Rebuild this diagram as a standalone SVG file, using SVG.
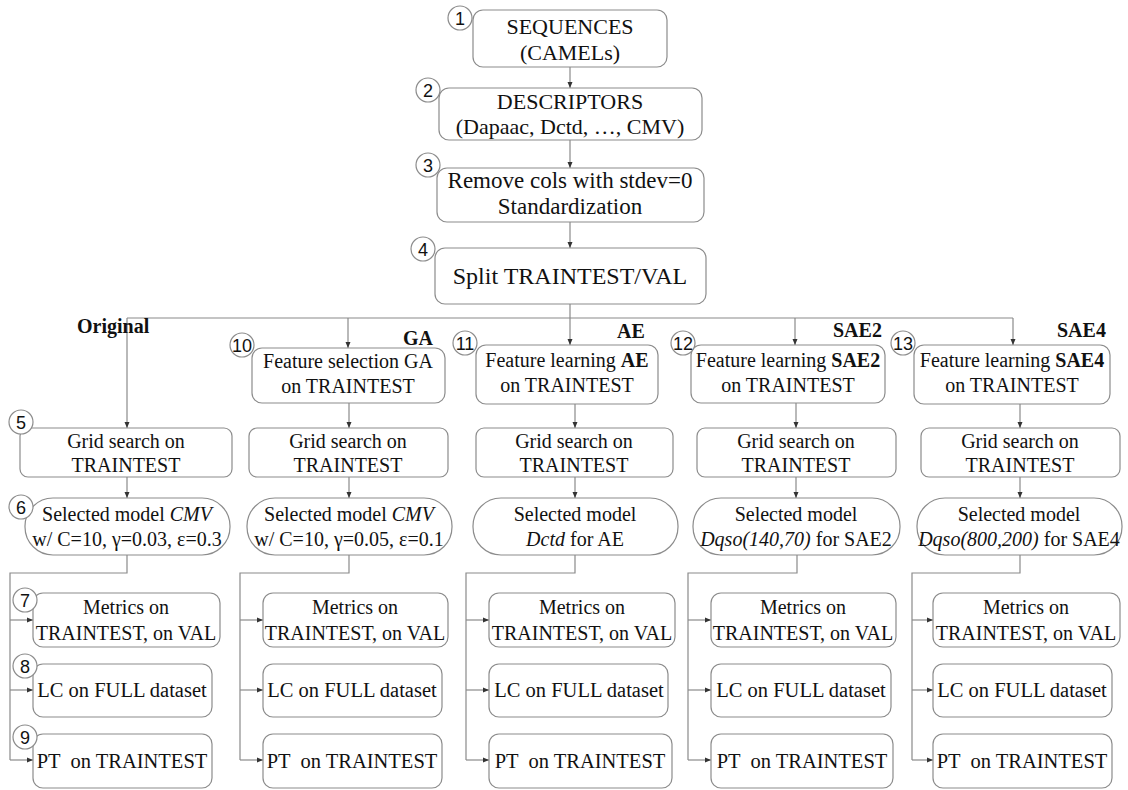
<svg xmlns="http://www.w3.org/2000/svg" width="1128" height="790" viewBox="0 0 1128 790">
<defs>
<marker id="ah" markerUnits="userSpaceOnUse" markerWidth="7" markerHeight="6" refX="6" refY="3" orient="auto">
<path d="M0,0.5 L6,3 L0,5.5 z" fill="#333"/>
</marker>
<style>
.box{fill:#fff;stroke:#8c8c8c;stroke-width:1.2}
.t{font-family:"Liberation Serif","Times New Roman",serif;fill:#111;text-anchor:middle}
.s20{font-size:20px}
.s21{font-size:20.5px}
.s22{font-size:22px}
.num{fill:#fff;stroke:#8c8c8c;stroke-width:1.2}
.nt{font-family:"Liberation Sans",Arial,sans-serif;font-size:18px;fill:#111;text-anchor:middle}
.lab{font-family:"Liberation Serif","Times New Roman",serif;font-size:20px;font-weight:bold;fill:#111}
.c{fill:none;stroke:#8a8a8a;stroke-width:1.2}
.a{marker-end:url(#ah)}
</style>
</defs>
<rect width="1128" height="790" fill="#fff"/>

<g id="connectors">
<path class="c a" d="M570,67 V88"/>
<path class="c a" d="M570,140 V168"/>
<path class="c a" d="M570,222 V248"/>
<path class="c" d="M570,304 V318"/>
<path class="c" d="M127,318 H1013"/>
<path class="c a" d="M127,318 V428"/>
<path class="c a" d="M348,318 V348"/>
<path class="c a" d="M570,318 V345"/>
<path class="c a" d="M795,318 V345"/>
<path class="c a" d="M1013,318 V345"/>
<path class="c a" d="M349,403 V428"/>
<path class="c a" d="M575,404 V428"/>
<path class="c a" d="M796,403 V428"/>
<path class="c a" d="M1020,404 V428"/>
<path class="c a" d="M127,477 V498"/>
<path class="c a" d="M349,477 V498"/>
<path class="c a" d="M575,477 V498"/>
<path class="c a" d="M796,477 V498"/>
<path class="c a" d="M1020,477 V498"/>
<path class="c" d="M127,555 V573 H10 V760"/>
<path class="c a" d="M10,620 H33"/><path class="c a" d="M10,690 H33"/><path class="c a" d="M10,760 H33"/>
<path class="c" d="M349,555 V573 H240 V760"/>
<path class="c a" d="M240,620 H263"/><path class="c a" d="M240,690 H263"/><path class="c a" d="M240,760 H263"/>
<path class="c" d="M575,555 V573 H466 V760"/>
<path class="c a" d="M466,620 H489"/><path class="c a" d="M466,690 H489"/><path class="c a" d="M466,760 H489"/>
<path class="c" d="M797,555 V573 H688 V760"/>
<path class="c a" d="M688,620 H711"/><path class="c a" d="M688,690 H711"/><path class="c a" d="M688,760 H711"/>
<path class="c" d="M1020,555 V573 H912 V760"/>
<path class="c a" d="M912,620 H933"/><path class="c a" d="M912,690 H933"/><path class="c a" d="M912,760 H933"/>
</g>

<g id="n1">
<rect class="box" x="473" y="10" width="194" height="57" rx="10"/>
<text class="t s22" x="570" y="34">SEQUENCES</text>
<text class="t s22" x="570" y="60">(CAMELs)</text>
<circle class="num" cx="460" cy="18" r="12"/><text class="nt" x="460" y="24.5">1</text>
</g>
<g id="n2">
<rect class="box" x="439" y="88" width="263" height="52" rx="10"/>
<text class="t s22" x="570" y="109">DESCRIPTORS</text>
<text class="t s22" x="570" y="134">(Dapaac, Dctd, …, CMV)</text>
<circle class="num" cx="428" cy="90" r="12"/><text class="nt" x="428" y="96.5">2</text>
</g>
<g id="n3">
<rect class="box" x="437" y="168" width="267" height="54" rx="10"/>
<text class="t" style="font-size:23px" x="570" y="188">Remove cols with stdev=0</text>
<text class="t" style="font-size:23px" x="570" y="214">Standardization</text>
<circle class="num" cx="428" cy="165" r="12"/><text class="nt" x="428" y="171.5">3</text>
</g>
<g id="n4">
<rect class="box" x="435" y="248" width="271" height="56" rx="10"/>
<text class="t" style="font-size:24px" x="570" y="284">Split TRAINTEST/VAL</text>
<circle class="num" cx="423" cy="249" r="12"/><text class="nt" x="423" y="255.5">4</text>
</g>

<g id="labels">
<text class="lab" x="77" y="333">Original</text>
<text class="lab" x="403" y="345">GA</text>
<text class="lab" x="617" y="338">AE</text>
<text class="lab" x="833" y="337">SAE2</text>
<text class="lab" x="1057" y="337">SAE4</text>
</g>

<g id="n10">
<rect class="box" x="252" y="348" width="193" height="55" rx="10"/>
<text class="t s20" x="348" y="368">Feature selection GA</text>
<text class="t s20" x="348" y="393">on TRAINTEST</text>
<circle class="num" cx="242" cy="345" r="12"/><text class="nt" x="242" y="351.5">10</text>
</g>
<g id="n11">
<rect class="box" x="476" y="345" width="182" height="59" rx="10"/>
<text class="t s20" x="567" y="367">Feature learning <tspan font-weight="bold">AE</tspan></text>
<text class="t s20" x="567" y="392">on TRAINTEST</text>
<circle class="num" cx="465" cy="343" r="12"/><text class="nt" x="465" y="349.5">11</text>
</g>
<g id="n12">
<rect class="box" x="691" y="345" width="194" height="58" rx="10"/>
<text class="t s20" x="788" y="367">Feature learning <tspan font-weight="bold">SAE2</tspan></text>
<text class="t s20" x="788" y="392">on TRAINTEST</text>
<circle class="num" cx="683" cy="343" r="12"/><text class="nt" x="683" y="349.5">12</text>
</g>
<g id="n13">
<rect class="box" x="914" y="345" width="196" height="59" rx="10"/>
<text class="t s20" x="1012" y="367">Feature learning <tspan font-weight="bold">SAE4</tspan></text>
<text class="t s20" x="1012" y="392">on TRAINTEST</text>
<circle class="num" cx="903" cy="343" r="12"/><text class="nt" x="903" y="349.5">13</text>
</g>

<g id="n5">
<rect class="box" x="20" y="428" width="212" height="49" rx="8"/>
<text class="t s20" x="126" y="448">Grid search on</text>
<text class="t s20" x="126" y="472">TRAINTEST</text>
<circle class="num" cx="21" cy="422" r="12"/><text class="nt" x="21" y="428.5">5</text>
</g>
<g id="g2">
<rect class="box" x="249" y="428" width="199" height="49" rx="8"/>
<text class="t s20" x="348" y="448">Grid search on</text>
<text class="t s20" x="348" y="472">TRAINTEST</text>
</g>
<g id="g3">
<rect class="box" x="476" y="428" width="197" height="49" rx="8"/>
<text class="t s20" x="574" y="448">Grid search on</text>
<text class="t s20" x="574" y="472">TRAINTEST</text>
</g>
<g id="g4">
<rect class="box" x="697" y="428" width="199" height="49" rx="8"/>
<text class="t s20" x="796" y="448">Grid search on</text>
<text class="t s20" x="796" y="472">TRAINTEST</text>
</g>
<g id="g5">
<rect class="box" x="921" y="428" width="199" height="49" rx="8"/>
<text class="t s20" x="1020" y="448">Grid search on</text>
<text class="t s20" x="1020" y="472">TRAINTEST</text>
</g>

<g id="n6">
<rect class="box" x="25" y="498" width="205" height="57" rx="28"/>
<text class="t s20" x="127" y="521">Selected model <tspan font-style="italic">CMV</tspan></text>
<text class="t s20" x="127" y="546">w/ C=10, γ=0.03, ε=0.3</text>
<circle class="num" cx="21" cy="507" r="12"/><text class="nt" x="21" y="513.5">6</text>
</g>
<g id="m2">
<rect class="box" x="247" y="498" width="205" height="57" rx="28"/>
<text class="t s20" x="349" y="521">Selected model <tspan font-style="italic">CMV</tspan></text>
<text class="t s20" x="349" y="546">w/ C=10, γ=0.05, ε=0.1</text>
</g>
<g id="m3">
<rect class="box" x="473" y="498" width="205" height="57" rx="28"/>
<text class="t s20" x="575" y="521">Selected model</text>
<text class="t s20" x="575" y="546"><tspan font-style="italic">Dctd</tspan> for AE</text>
</g>
<g id="m4">
<rect class="box" x="693" y="498" width="207" height="57" rx="28"/>
<text class="t s20" x="796" y="521">Selected model</text>
<text class="t s20" x="796" y="546"><tspan font-style="italic">Dqso(140,70)</tspan> for SAE2</text>
</g>
<g id="m5">
<rect class="box" x="917" y="498" width="205" height="57" rx="28"/>
<text class="t s20" x="1019" y="521">Selected model</text>
<text class="t s20" x="1019" y="546"><tspan font-style="italic">Dqso(800,200)</tspan> for SAE4</text>
</g>

<g id="n7">
<rect class="box" x="33" y="593" width="187" height="54" rx="10"/>
<text class="t s20" x="126" y="614">Metrics on</text>
<text class="t s20" x="126" y="640">TRAINTEST, on VAL</text>
<circle class="num" cx="25" cy="600" r="12"/><text class="nt" x="25" y="606.5">7</text>
</g>
<g id="n8">
<rect class="box" x="33" y="664" width="179" height="53" rx="10"/>
<text class="t s21" x="122" y="697">LC on FULL dataset</text>
<circle class="num" cx="25" cy="666" r="12"/><text class="nt" x="25" y="672.5">8</text>
</g>
<g id="n9">
<rect class="box" x="33" y="734" width="179" height="54" rx="10"/>
<text class="t s21" x="122" y="768" xml:space="preserve">PT  on TRAINTEST</text>
<circle class="num" cx="25" cy="737" r="12"/><text class="nt" x="25" y="743.5">9</text>
</g>

<g id="r2">
<rect class="box" x="263" y="593" width="185" height="54" rx="10"/>
<text class="t s20" x="355" y="614">Metrics on</text>
<text class="t s20" x="355" y="640">TRAINTEST, on VAL</text>
<rect class="box" x="263" y="664" width="179" height="53" rx="10"/>
<text class="t s21" x="352" y="697">LC on FULL dataset</text>
<rect class="box" x="263" y="734" width="179" height="54" rx="10"/>
<text class="t s21" x="352" y="768" xml:space="preserve">PT  on TRAINTEST</text>
</g>
<g id="r3">
<rect class="box" x="489" y="593" width="186" height="54" rx="10"/>
<text class="t s20" x="582" y="614">Metrics on</text>
<text class="t s20" x="582" y="640">TRAINTEST, on VAL</text>
<rect class="box" x="489" y="664" width="179" height="53" rx="10"/>
<text class="t s21" x="579" y="697">LC on FULL dataset</text>
<rect class="box" x="489" y="734" width="183" height="54" rx="10"/>
<text class="t s21" x="580" y="768" xml:space="preserve">PT  on TRAINTEST</text>
</g>
<g id="r4">
<rect class="box" x="711" y="593" width="185" height="54" rx="10"/>
<text class="t s20" x="803" y="614">Metrics on</text>
<text class="t s20" x="803" y="640">TRAINTEST, on VAL</text>
<rect class="box" x="711" y="664" width="180" height="53" rx="10"/>
<text class="t s21" x="801" y="697">LC on FULL dataset</text>
<rect class="box" x="711" y="734" width="182" height="54" rx="10"/>
<text class="t s21" x="802" y="768" xml:space="preserve">PT  on TRAINTEST</text>
</g>
<g id="r5">
<rect class="box" x="933" y="593" width="187" height="54" rx="10"/>
<text class="t s20" x="1026" y="614">Metrics on</text>
<text class="t s20" x="1026" y="640">TRAINTEST, on VAL</text>
<rect class="box" x="933" y="664" width="179" height="53" rx="10"/>
<text class="t s21" x="1022" y="697">LC on FULL dataset</text>
<rect class="box" x="933" y="734" width="179" height="54" rx="10"/>
<text class="t s21" x="1022" y="768" xml:space="preserve">PT  on TRAINTEST</text>
</g>
</svg>
